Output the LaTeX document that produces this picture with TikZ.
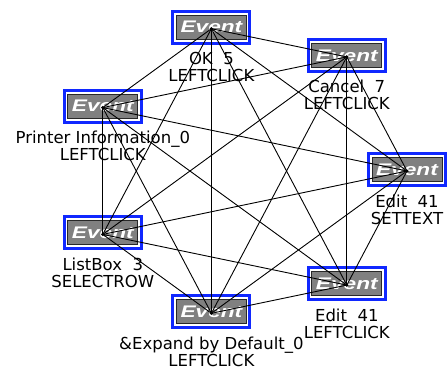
\documentclass[tikz,border=0pt]{standalone}
\usepackage{fontspec}
\setmainfont{DejaVu Sans}
\newfontfamily\evfont{Liberation Sans}
\usetikzlibrary{calc}
\definecolor{evblue}{RGB}{16,40,255}
\definecolor{evgray}{RGB}{128,128,128}
\definecolor{evedge}{RGB}{40,40,40}

% One event: hub point, framed box, and a two-line caption below it
\newcommand\evnode[5]{%
  \coordinate (h#1) at (#2,#3);
  \node[evframe] (f#1) at ($(h#1)+(0,-1.5)$) {};
  \node[evcore] (e#1) at (f#1.center) {\scalebox{1.35}[1]{Event}};
  \node[caption] (a#1) at ($(h#1)+(0,36)$) {#4};
  \node[caption] (b#1) at ($(h#1)+(0,53)$) {#5};
}

\begin{document}
\begin{tikzpicture}[x=1pt,y=-1pt,
  evframe/.style={draw=evblue, line width=3pt, fill=white,
    minimum width=77pt, minimum height=32pt, inner sep=0pt},
  evcore/.style={draw=evedge, line width=1pt, fill=evgray,
    minimum width=70pt, minimum height=24pt, inner sep=0pt, text=white,
    font=\evfont\fontsize{16.8}{17}\selectfont\bfseries\itshape},
  caption/.style={anchor=base, inner sep=0pt,
    font=\fontsize{16.5}{18}\selectfont},
  link/.style={line width=0.9pt},
  hubdot/.style={fill=black, circle, inner sep=0pt, minimum size=3.5pt}]
\useasboundingbox (0,0) rectangle (448,370);
\clip (0,0) rectangle (448,370);
\fill[white] (0,0) rectangle (448,370);

\evnode{0}{407}{171}{Edit\ \ 41}{SETTEXT}
\evnode{1}{346.8}{56.9}{Cancel\ \ 7}{LEFTCLICK}
\evnode{2}{211.4}{28.7}{OK\ \ 5}{LEFTCLICK}
\evnode{3}{102.8}{107.6}{Printer Information\_0}{LEFTCLICK}
\evnode{4}{102.8}{234.4}{ListBox\ \ 3}{SELECTROW}
\evnode{5}{211.4}{313.3}{\&Expand by Default\_0}{LEFTCLICK}
\evnode{6}{346.8}{285.1}{Edit\ \ 41}{LEFTCLICK}

% every pair of events is linked
\foreach \a/\b in {0/1,0/2,0/3,0/4,0/5,0/6,
                   1/2,1/3,1/4,1/5,1/6,
                   2/3,2/4,2/5,2/6,
                   3/4,3/5,3/6,
                   4/5,4/6,
                   5/6}
  \draw[link] (h\a) -- (h\b);

\foreach \i in {0,...,6}
  \node[hubdot] (d\i) at (h\i) {};
\end{tikzpicture}
\end{document}
